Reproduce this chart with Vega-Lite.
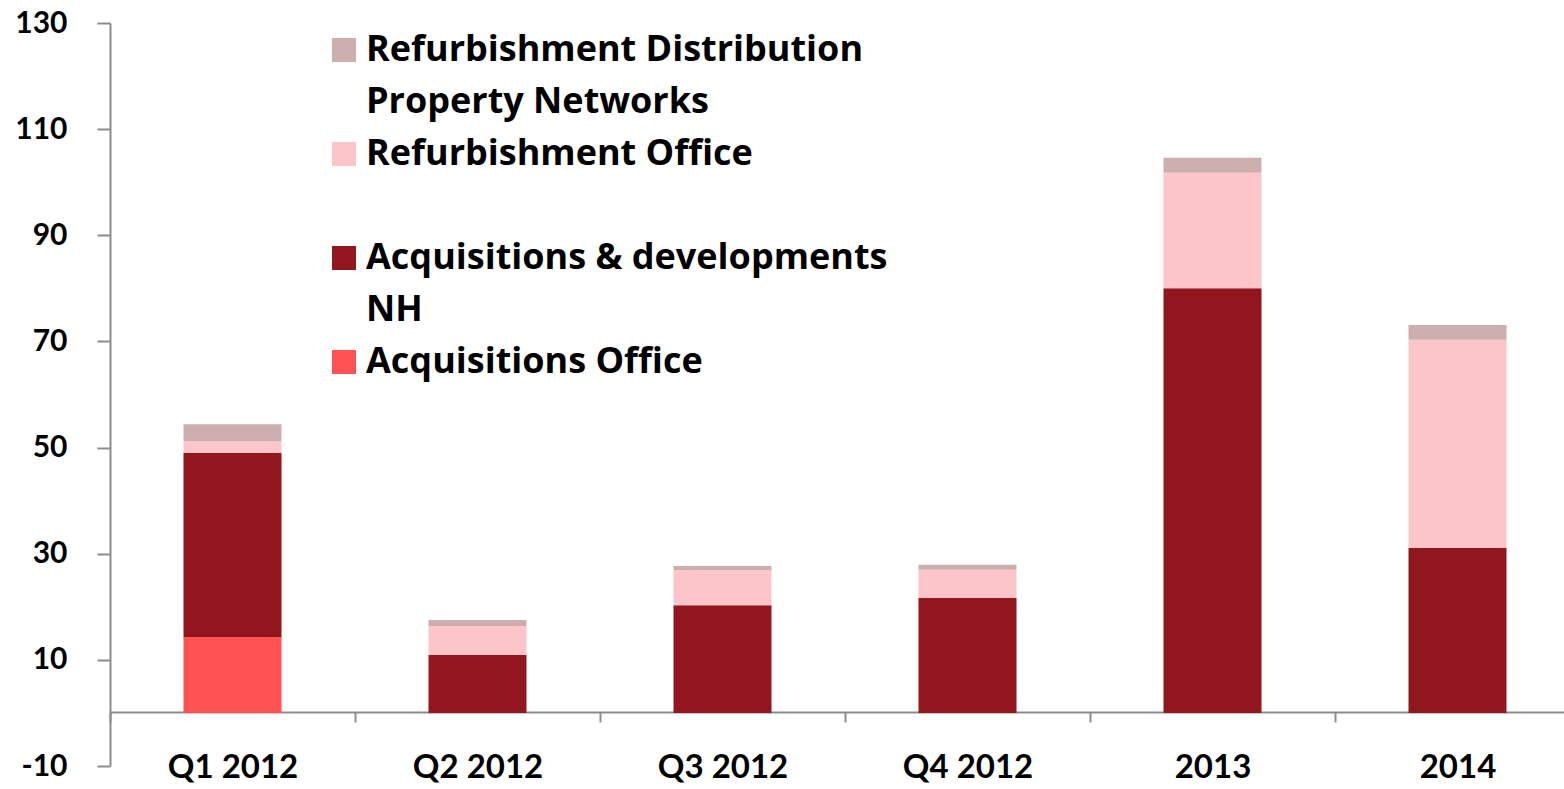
{
  "$schema": "https://vega.github.io/schema/vega-lite/v6.json",
  "autosize": "none",
  "width": 1454,
  "height": 743,
  "padding": {"left": 110, "top": 23, "right": 0, "bottom": 23},
  "background": "white",
  "config": {
    "view": {"stroke": null},
    "font": "Lato"
  },
  "data": {
    "values": [
      {"period": "Q1 2012", "series": "Acquisitions Office", "value": 14.3},
      {"period": "Q1 2012", "series": "Acquisitions & developments NH", "value": 34.7},
      {"period": "Q1 2012", "series": "Refurbishment Office", "value": 2.2},
      {"period": "Q1 2012", "series": "Refurbishment Distribution Property Networks", "value": 3.2},
      {"period": "Q2 2012", "series": "Acquisitions & developments NH", "value": 10.9},
      {"period": "Q2 2012", "series": "Refurbishment Office", "value": 5.5},
      {"period": "Q2 2012", "series": "Refurbishment Distribution Property Networks", "value": 1.1},
      {"period": "Q3 2012", "series": "Acquisitions & developments NH", "value": 20.3},
      {"period": "Q3 2012", "series": "Refurbishment Office", "value": 6.6},
      {"period": "Q3 2012", "series": "Refurbishment Distribution Property Networks", "value": 0.8},
      {"period": "Q4 2012", "series": "Acquisitions & developments NH", "value": 21.7},
      {"period": "Q4 2012", "series": "Refurbishment Office", "value": 5.3},
      {"period": "Q4 2012", "series": "Refurbishment Distribution Property Networks", "value": 0.9},
      {"period": "2013", "series": "Acquisitions & developments NH", "value": 80.0},
      {"period": "2013", "series": "Refurbishment Office", "value": 21.8},
      {"period": "2013", "series": "Refurbishment Distribution Property Networks", "value": 2.8},
      {"period": "2014", "series": "Acquisitions & developments NH", "value": 31.1},
      {"period": "2014", "series": "Refurbishment Office", "value": 39.2},
      {"period": "2014", "series": "Refurbishment Distribution Property Networks", "value": 2.8}
    ]
  },
  "transform": [
    {"calculate": "indexof(['Acquisitions Office', 'Acquisitions & developments NH', 'Refurbishment Office', 'Refurbishment Distribution Property Networks'], datum.series)", "as": "stack_order"}
  ],
  "mark": {"type": "bar", "width": {"band": 0.4}},
  "encoding": {
    "x": {
      "field": "period",
      "type": "nominal",
      "sort": ["Q1 2012", "Q2 2012", "Q3 2012", "Q4 2012", "2013", "2014"],
      "scale": {"range": [0, 1470], "paddingInner": 0, "paddingOuter": 0},
      "axis": {
        "title": null,
        "orient": "bottom",
        "offset": -54,
        "labelAngle": 0,
        "domainColor": "#8c8c8c",
        "domainWidth": 2,
        "tickColor": "#8c8c8c",
        "tickWidth": 2,
        "tickSize": 10,
        "tickBand": "extent",
        "labelFont": "Lato",
        "labelFontSize": 33,
        "labelFontWeight": "bold",
        "labelColor": "black",
        "labelPadding": 45,
        "labelBaseline": "middle"
      }
    },
    "y": {
      "field": "value",
      "type": "quantitative",
      "stack": "zero",
      "scale": {"domain": [-10, 130], "nice": false, "zero": false},
      "axis": {
        "title": null,
        "values": [-10, 10, 30, 50, 70, 90, 110, 130],
        "labelExpr": "datum.value < 0 ? '-' + abs(datum.value) : datum.label",
        "grid": false,
        "domainColor": "#8c8c8c",
        "domainWidth": 2,
        "tickColor": "#8c8c8c",
        "tickWidth": 2,
        "tickSize": 13,
        "labelFont": "Lato",
        "labelFontSize": 30,
        "labelFontWeight": "bold",
        "labelColor": "black",
        "labelPadding": 30
      }
    },
    "order": {"field": "stack_order", "type": "quantitative", "sort": "ascending"},
    "color": {
      "field": "series",
      "type": "nominal",
      "scale": {
        "domain": ["Acquisitions Office", "Acquisitions & developments NH", "Refurbishment Office", "Refurbishment Distribution Property Networks"],
        "range": ["#ff5252", "#92161e", "#fcc5ca", "#cdaeaf"]
      },
      "legend": {
        "title": null,
        "orient": "none",
        "legendX": 216,
        "legendY": 9,
        "direction": "vertical",
        "padding": 0,
        "values": ["Refurbishment Distribution Property Networks", "Refurbishment Office", "Acquisitions & developments NH", "Acquisitions Office"],
        "symbolType": "square",
        "symbolSize": 576,
        "symbolStrokeWidth": 0,
        "symbolOpacity": 1,
        "labelFont": "Open Sans",
        "labelFontSize": 36,
        "labelFontWeight": "bold",
        "labelColor": "black",
        "labelOffset": 4,
        "labelLimit": 1000,
        "labelBaseline": "middle",
        "rowPadding": 16,
        "labelExpr": "datum.label == 'Refurbishment Distribution Property Networks' ? ['Refurbishment Distribution', 'Property Networks'] : datum.label == 'Refurbishment Office' ? ['Refurbishment Office', ' '] : datum.label == 'Acquisitions & developments NH' ? ['Acquisitions & developments', 'NH'] : datum.label",
        "encode": {"labels": {"update": {"lineHeight": {"value": 52}}}}
      }
    }
  }
}
